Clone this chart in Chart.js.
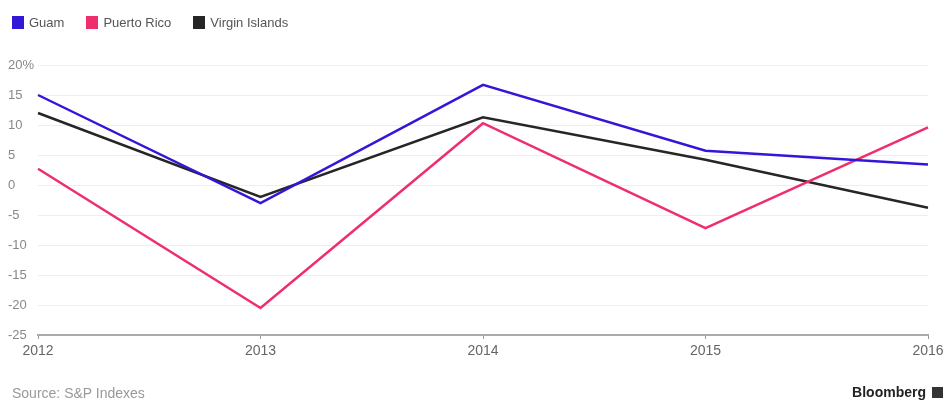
<!DOCTYPE html>
<html>
<head>
<meta charset="utf-8">
<script src="https://cdn.jsdelivr.net/npm/chart.js@4"></script>
<style>
  html, body { margin: 0; padding: 0; background: #fff; }
  body { width: 949px; height: 401px; position: relative; overflow: hidden; font-family: "Liberation Sans", Arial, sans-serif; }
  #chartWrap { position: absolute; left: 0; top: 0; width: 949px; height: 401px; }
  .legend { position: absolute; top: 15px; left: 12px; font-size: 13px; color: #555; display: flex; }
  .legend span.item { display: flex; align-items: center; margin-right: 22px; }
  .legend i { display: inline-block; width: 12px; height: 13px; margin-right: 5px; }
  .source { position: absolute; left: 12px; top: 385px; font-size: 14px; color: #999; }
  .brand { position: absolute; right: 6px; top: 384px; font-size: 14px; font-weight: bold; color: #222; display: flex; align-items: center; }
  .brand i { display: inline-block; width: 11px; height: 11px; background: #333; margin-left: 6px; }
</style>
</head>
<body>
<div id="chartWrap"><canvas id="dataChart"></canvas></div>
<div class="legend" id="legend"></div>
<div class="source">Source: S&amp;P Indexes</div>
<div class="brand">Bloomberg<i></i></div>
<script>
// ===== DATA =====
const years = ["2012", "2013", "2014", "2015", "2016"];
const guam = [15, -3, 16.7, 5.7, 3.4];
const puertoRico = [2.7, -20.5, 10.3, -7.2, 9.6];
const virginIslands = [12, -2, 11.3, 4.2, -3.8];
const yTicks = [20, 15, 10, 5, 0, -5, -10, -15, -20, -25];

const seriesInfo = [
  { label: "Guam", data: guam, color: "#3317d9" },
  { label: "Puerto Rico", data: puertoRico, color: "#ef2e6d" },
  { label: "Virgin Islands", data: virginIslands, color: "#262626" },
];

// legend
const legend = document.getElementById("legend");
seriesInfo.forEach((s) => {
  const el = document.createElement("span");
  el.className = "item";
  el.innerHTML = `<i style="background:${s.color}"></i>${s.label}`;
  legend.appendChild(el);
});

const ctx = document.getElementById("dataChart");
new Chart(ctx, {
  type: "line",
  data: {
    labels: years,
    datasets: seriesInfo.map((s) => ({
      label: s.label,
      data: s.data,
      borderColor: s.color,
      borderWidth: 2.5,
      pointRadius: 0,
      tension: 0,
      fill: false,
    })),
  },
  options: {
    responsive: true,
    maintainAspectRatio: false,
    animation: false,
    layout: { padding: { left: 8, top: 65, right: 21, bottom: 0 } },
    plugins: { legend: { display: false }, tooltip: { enabled: false } },
    scales: {
      x: {
        offset: false,
        grid: { drawOnChartArea: false, drawTicks: true, tickLength: 4, color: "#999" },
        border: { color: "#aaa", width: 2 },
        ticks: { color: "#666", font: { family: "Liberation Sans", size: 14 }, padding: 4, maxRotation: 0 },
        afterFit: (scale) => { scale.height = 66; },
      },
      y: {
        min: -25,
        max: 20,
        afterBuildTicks: (scale) => { scale.ticks = yTicks.map((v) => ({ value: v })); },
        grid: { color: "#eeeeee", drawTicks: false },
        border: { display: false },
        ticks: {
          color: "#888",
          crossAlign: "far",
          padding: 4,
          font: { family: "Liberation Sans", size: 13 },
          callback: (v) => (v === 20 ? "20%" : v),
        },
        afterFit: (scale) => { scale.width = 30; },
      },
    },
  },
});
</script>
</body>
</html>
